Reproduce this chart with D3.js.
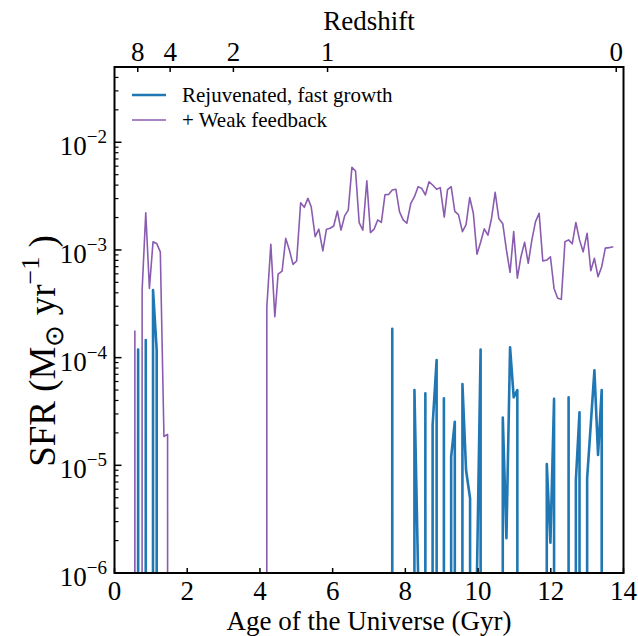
<!DOCTYPE html>
<html><head><meta charset="utf-8">
<script src="https://cdn.jsdelivr.net/npm/d3@7"></script>
<style>
body{margin:0;background:#fff}
text{font-family:"Liberation Serif","Times New Roman",serif;fill:#000}
</style>
</head><body>
<svg id="chart" width="638" height="636"></svg>
<script>
// ---- data ----
const ageTicks = [0, 2, 4, 6, 8, 10, 12, 14];
const sfrMajorTicks = [1e-6, 1e-5, 1e-4, 1e-3, 1e-2];
const sfrTickExponents = ["−6", "−5", "−4", "−3", "−2"];
const redshiftLabels = ["8", "4", "2", "1", "0"];
const redshiftAges = [0.64, 1.53, 3.27, 5.86, 13.8];
const seriesNames = ["Rejuvenated, fast growth", "+ Weak feedback"];
const seriesColors = ["#1f77b4", "#8a5cb0"];

// Rejuvenated, fast growth (Gyr, Msun/yr)
const fastAges = [0.55, 0.65, 0.75, 0.86, 0.96, 1.06, 1.16, 1.26,
  7.54, 7.64, 7.74, 8.15, 8.25, 8.35, 8.45, 8.55, 8.65, 8.75, 8.86, 8.96,
  9.06, 9.16, 9.26, 9.36, 9.46, 9.57, 9.67, 9.78, 9.87, 9.97, 10.07, 10.17,
  10.57, 10.68, 10.78, 10.88, 10.98, 11.08, 11.18, 11.78, 11.89, 11.99, 12.09, 12.19,
  12.39, 12.49, 12.59, 12.69, 12.79, 12.89, 13.00, 13.10, 13.20, 13.30, 13.40, 13.50];
const fastSFR = [0, 1.19e-4, 0, 1.46e-4, 0, 4.25e-4, 1.18e-4, 0,
  0, 1.85e-4, 0, 0, 5.0e-5, 1.0e-6, 0, 4.67e-5, 0, 2.37e-5, 9.5e-5, 0,
  4.19e-5, 0, 1.2e-5, 2.54e-5, 0, 5.69e-5, 9.0e-6, 4.93e-6, 0, 1.0e-6, 1.19e-4, 0,
  0, 2.77e-5, 2.1e-6, 1.25e-4, 4.28e-5, 5.0e-5, 0, 0, 1.03e-5, 1.91e-6, 4.15e-5, 0,
  0, 4.28e-5, 0, 7.3e-6, 3.1e-5, 0, 7.6e-6, 2.4e-5, 7.62e-5, 1.25e-5, 5.0e-5, 0];

// + Weak feedback
const weakAges = [0.46, 0.56, 0.66, 0.76, 0.86, 0.96, 1.06, 1.16, 1.26, 1.36, 1.46, 1.56,
  4.09, 4.19, 4.30, 4.41, 4.50, 4.61, 4.71, 4.81, 4.91, 5.01, 5.12, 5.22, 5.32, 5.41,
  5.52, 5.62, 5.73, 5.83, 5.93, 6.03, 6.13, 6.23, 6.33, 6.43, 6.53, 6.63, 6.73, 6.83,
  6.94, 7.04, 7.14, 7.24, 7.34, 7.44, 7.54, 7.64, 7.74, 7.84, 7.94, 8.04, 8.15, 8.25,
  8.35, 8.45, 8.55, 8.65, 8.75, 8.86, 8.96, 9.07, 9.16, 9.26, 9.36, 9.46, 9.57, 9.67,
  9.77, 9.87, 9.97, 10.07, 10.17, 10.27, 10.37, 10.47, 10.57, 10.68, 10.78, 10.88, 10.98,
  11.08, 11.18, 11.28, 11.38, 11.48, 11.58, 11.68, 11.78, 11.89, 11.99, 12.09, 12.19,
  12.29, 12.39, 12.49, 12.59, 12.69, 12.79, 12.89, 13.00, 13.10, 13.20, 13.30, 13.40,
  13.50, 13.60, 13.72];
const weakSFR = [0, 1.77e-4, 0, 4.25e-4, 2.21e-3, 4.4e-4, 1.19e-3, 1.15e-3, 9.6e-4, 1.85e-5, 1.94e-5, 0,
  0, 2.97e-4, 1.13e-3, 2.40e-4, 5.97e-4, 6.37e-4, 1.28e-3, 9.98e-4, 7.34e-4, 7.89e-4, 2.74e-3, 2.49e-3, 3.01e-3, 2.52e-3,
  1.33e-3, 1.56e-3, 9.8e-4, 1.56e-3, 1.59e-3, 1.67e-3, 2.30e-3, 1.53e-3, 2.07e-3, 2.34e-3, 5.85e-3, 5.41e-3, 1.79e-3, 1.53e-3,
  4.39e-3, 1.45e-3, 1.56e-3, 1.90e-3, 1.80e-3, 3.26e-3, 3.28e-3, 3.60e-3, 3.66e-3, 2.26e-3, 1.90e-3, 1.77e-3, 2.71e-3, 3.12e-3,
  3.87e-3, 3.73e-3, 3.24e-3, 4.30e-3, 4.01e-3, 3.66e-3, 3.79e-3, 2.02e-3, 3.63e-3, 3.87e-3, 2.28e-3, 2.13e-3, 1.48e-3, 1.72e-3,
  3.07e-3, 2.19e-3, 9.12e-4, 1.18e-3, 1.57e-3, 1.37e-3, 1.96e-3, 3.43e-3, 1.96e-3, 1.75e-3, 1.00e-3, 6.19e-4, 1.48e-3,
  5.48e-4, 8.65e-4, 1.18e-3, 7.52e-4, 1.24e-3, 1.83e-3, 2.19e-3, 7.89e-4, 8.05e-4, 8.65e-4, 4.39e-4, 3.56e-4,
  3.48e-4, 1.19e-3, 1.24e-3, 1.14e-3, 1.80e-3, 1.24e-3, 9.61e-4, 1.43e-3, 6.41e-4, 8.36e-4, 5.64e-4, 6.98e-4,
  1.04e-3, 1.05e-3, 1.07e-3];

// ---- drawing ----
const svg = d3.select("#chart");
const L = 114.5, R = 623.5, T = 67, B = 573;
const x = d3.scaleLinear().domain([0, 14]).range([L, R]);
const y = d3.scaleLog().domain([1e-6, 5e-2]).range([B, T]);

svg.append("defs").append("clipPath").attr("id", "plotclip")
  .append("rect").attr("x", L).attr("y", T).attr("width", R - L).attr("height", B - T);

const line = d3.line()
  .x(d => x(d[0]))
  .y(d => y(d[1] > 0 ? d[1] : 1e-300));

const plotG = svg.append("g").attr("clip-path", "url(#plotclip)");
plotG.append("path")
  .datum(weakAges.map((a, i) => [a, weakSFR[i]]))
  .attr("d", line).attr("fill", "none")
  .attr("stroke", seriesColors[1]).attr("stroke-width", 1.6)
  .attr("stroke-linejoin", "round");
plotG.append("path")
  .datum(fastAges.map((a, i) => [a, fastSFR[i]]))
  .attr("d", line).attr("fill", "none")
  .attr("stroke", seriesColors[0]).attr("stroke-width", 2.6)
  .attr("stroke-linejoin", "round");

// bottom axis ticks (inward)
const bottomG = svg.append("g");
bottomG.selectAll("line").data(ageTicks).join("line")
  .attr("x1", d => x(d)).attr("x2", d => x(d))
  .attr("y1", B).attr("y2", B - 5)
  .attr("stroke", "#000").attr("stroke-width", 1.5);
bottomG.selectAll("text").data(ageTicks).join("text")
  .attr("x", d => x(d)).attr("y", B + 27)
  .attr("text-anchor", "middle").attr("font-size", 27)
  .text(d => d);
svg.append("text").attr("x", (L + R) / 2).attr("y", 630)
  .attr("text-anchor", "middle").attr("font-size", 27)
  .text("Age of the Universe (Gyr)");

// top (redshift) axis
const topG = svg.append("g");
topG.selectAll("line").data(redshiftAges).join("line")
  .attr("x1", d => x(d)).attr("x2", d => x(d))
  .attr("y1", T).attr("y2", T + 5)
  .attr("stroke", "#000").attr("stroke-width", 1.5);
topG.selectAll("text").data(redshiftLabels).join("text")
  .attr("x", (d, i) => x(redshiftAges[i])).attr("y", T - 6)
  .attr("text-anchor", "middle").attr("font-size", 27)
  .text(d => d);
svg.append("text").attr("x", (L + R) / 2).attr("y", 30)
  .attr("text-anchor", "middle").attr("font-size", 27)
  .text("Redshift");

// left axis: log ticks
const minorTicks = [];
for (let e = -6; e <= -2; e++) for (let m = 2; m <= 9; m++) {
  const v = m * Math.pow(10, e);
  if (v <= 5e-2) minorTicks.push(v);
}
const leftG = svg.append("g");
leftG.selectAll("line.minor").data(minorTicks).join("line").attr("class", "minor")
  .attr("x1", L).attr("x2", L + 4)
  .attr("y1", d => y(d)).attr("y2", d => y(d))
  .attr("stroke", "#000").attr("stroke-width", 1.2);
leftG.selectAll("line.major").data(sfrMajorTicks).join("line").attr("class", "major")
  .attr("x1", L).attr("x2", L + 7)
  .attr("y1", d => y(d)).attr("y2", d => y(d))
  .attr("stroke", "#000").attr("stroke-width", 1.5);
const lt = leftG.selectAll("text").data(sfrMajorTicks).join("text")
  .attr("x", 107).attr("y", d => y(d) + 13)
  .attr("text-anchor", "end").attr("font-size", 27);
lt.append("tspan").text("10");
lt.append("tspan").attr("dy", -12).attr("font-size", 19).text((d, i) => sfrTickExponents[i]);

// y label
const yl = svg.append("text")
  .attr("transform", "translate(55,351) rotate(-90)")
  .attr("text-anchor", "middle").attr("font-size", 37);
yl.append("tspan").text("SFR (M");
yl.append("tspan").attr("dy", 8).attr("font-size", 26).text("⊙");
yl.append("tspan").attr("dy", -8).text(" yr");
yl.append("tspan").attr("dy", -16).attr("font-size", 26).text("−1");
yl.append("tspan").attr("dy", 16).text(" )");

// frame
svg.append("rect").attr("x", L).attr("y", T).attr("width", R - L).attr("height", B - T)
  .attr("fill", "none").attr("stroke", "#000").attr("stroke-width", 2);

// legend
const leg = svg.append("g");
seriesNames.forEach((name, i) => {
  const yy = 95 + i * 25;
  leg.append("line").attr("x1", 132).attr("x2", 166).attr("y1", yy).attr("y2", yy)
    .attr("stroke", seriesColors[i]).attr("stroke-width", i === 0 ? 2.6 : 1.6);
  leg.append("text").attr("x", 182).attr("y", yy + 7).attr("font-size", 21).text(name);
});
</script>
</body></html>
